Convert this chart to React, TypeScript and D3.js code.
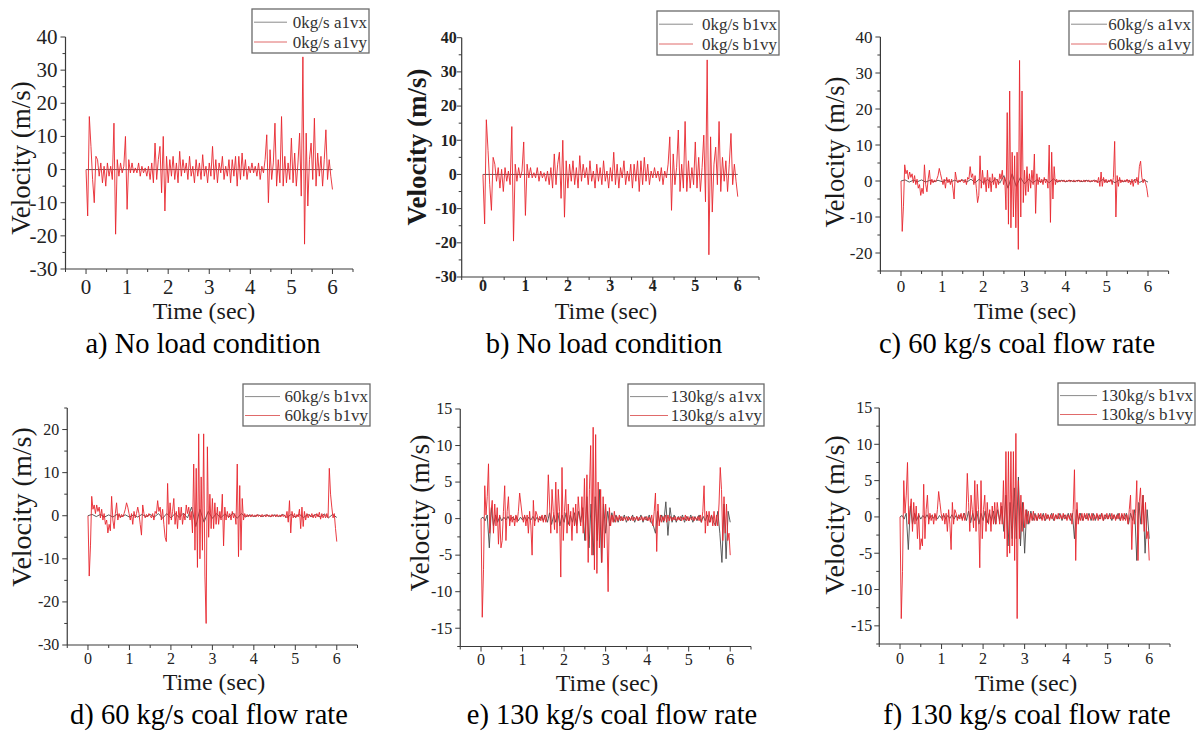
import React from "react";
import * as d3 from "d3";

// ---------- data ----------
const TIME_TICKS = [0, 1, 2, 3, 4, 5, 6];
const T_END = 6;

const CAPTIONS = [
  "a) No load condition",
  "b) No load condition",
  "c) 60 kg/s coal flow rate",
  "d) 60 kg/s coal flow rate",
  "e) 130 kg/s coal flow rate",
  "f) 130 kg/s coal flow rate",
];
const LEGENDS = [
  ["0kg/s a1vx", "0kg/s a1vy"],
  ["0kg/s b1vx", "0kg/s b1vy"],
  ["60kg/s a1vx", "60kg/s a1vy"],
  ["60kg/s b1vx", "60kg/s b1vy"],
  ["130kg/s a1vx", "130kg/s a1vy"],
  ["130kg/s b1vx", "130kg/s b1vy"],
];
const Y_TICKS_A = [-30, -20, -10, 0, 10, 20, 30, 40];
const Y_TICKS_C = [-20, -10, 0, 10, 20, 30, 40];
const Y_TICKS_D = [-30, -20, -10, 0, 10, 20];
const Y_TICKS_E = [-15, -10, -5, 0, 5, 10, 15];

// vx series (evenly spaced over 0..6 s)
const VX_0KG_A = [0, 0, 0, 0, 0, 0, 0, 0, 0, 0, 0, 0, 0];
const VX_0KG_B = [0, 0, 0, 0, 0, 0, 0, 0, 0, 0, 0, 0, 0];
const VX_60_A = [
  0, 0.3, -0.3, 0.2, -0.2, 0.3, -0.3, 0.2, -0.2, 0.2,
  -0.2, 0.3, -0.3, 0.2, -0.2, 0.3, -0.3, 0.5, -0.5, 0.5,
  -0.5, 0.4, -0.4, 0.6, -0.6, 1.5, -2, 2, -1.5, 1,
  -0.8, 0.5, -0.5, 0.3, -0.3, 0.5, -0.5, 0.6, -0.3, 0.2,
  -0.2, 0.2, -0.2, 0.2, -0.2, 0.2, -0.2, 0.2, -0.3, 0.4,
  -0.3, 0.2, -0.5, 0.3, -0.2, 0.2, -0.3, 0.4, -0.4, 0.3,
  -0.3,
];
const VX_60_B = [
  0, 0.3, -0.2, 0.3, -0.3, 0.2, -0.3, 0.3, -0.2, 0.2,
  -0.3, 0.2, -0.3, 0.3, -0.2, 0.3, -0.3, 0.5, -0.6, 0.5,
  -0.5, 0.5, -0.4, 0.6, -0.5, 2, -2.5, 1.5, -1.5, 1,
  -0.6, 0.5, -0.5, 0.4, -0.3, 0.6, -0.6, 0.5, -0.3, 0.2,
  -0.2, 0.2, -0.2, 0.2, -0.2, 0.2, -0.2, 0.3, -0.4, 0.3,
  -0.3, 0.3, -0.4, 0.3, -0.2, 0.3, -0.3, 0.4, -0.5, 0.3,
  -0.4,
];
const VX_130_A = [
  0, 0.2, -0.3, 0.5, -4, 1.5, -1, 0.5, -0.5, 0.3,
  -0.3, 0.2, -0.2, 0.3, -0.3, 0.2, -0.2, 0.3, -0.3, 0.2,
  -0.2, 0.3, -0.3, 0.2, -0.2, 0.3, -0.3, 0.2, -0.2, 0.3,
  -0.3, 0.5, -0.5, 0.8, -0.8, 0.5, -0.5, 0.8, -1, 0.5,
  -0.5, 0.8, -0.8, 0.5, -0.5, 0.8, -1, 1, -0.5, 1.5,
  -3, 3, -4, 2, -5, 3, -3, 4, -6, 2,
  -2, 1, -1, 0.8, -0.5, 0.5, -0.5, 0.3, -0.3, 0.5,
  -0.5, 0.3, -0.3, 0.5, -0.5, 0.3, -0.3, 0.5, -0.5, 0.3,
  -0.3, 0.5, -0.5, -1, -2, 1, -0.5, 0.5, -0.5, 2.3,
  -2.3, 1.5, -0.5, 0.5, -0.5, 0.3, -0.3, 0.5, -0.5, 0.3,
  -0.3, 0.5, -0.5, 0.3, -0.3, 0.5, -0.5, 0.3, -0.3, 0.5,
  -0.5, 0.5, -0.5, -1, 1, -2, -6, 2, -5.5, 1,
  -0.5,
];
const VX_130_B = [
  0, 0.2, -0.3, 0.5, -4.5, 1.5, -1, 0.5, -0.5, 0.3,
  -0.3, 0.2, -0.2, 0.3, -0.3, 0.2, -0.2, 0.3, -0.3, 0.2,
  -0.2, 0.3, -0.3, 0.2, -0.2, 0.3, -0.3, 0.2, -0.2, 0.3,
  -0.3, 0.5, -0.5, 0.8, -0.8, 0.5, -0.5, 0.8, -1, 0.5,
  -0.5, 0.8, -0.8, 0.5, -0.5, 0.8, -1, 1, -0.5, 1.5,
  -2, 3, -4, 2, -3, 4, -3, 5.5, -4, 2,
  -5, 1, -1, 0.8, -0.5, 0.5, -0.5, 0.3, -0.3, 0.5,
  -0.5, 0.3, -0.3, 0.5, -0.5, 0.3, -0.3, 0.5, -0.5, 0.3,
  -0.3, 0.5, -0.5, 0.5, -3, 1, -0.5, 0.5, -0.5, 0.3,
  -0.3, 0.5, -0.5, 0.5, -0.5, 0.3, -0.3, 0.5, -0.5, 0.3,
  -0.3, 0.5, -0.5, 0.3, -0.3, 0.5, -0.5, 0.3, -0.3, 0.5,
  -1, 0.5, -0.5, 1, -6, 2, -1, 3, -5, 1,
  -3,
];

// vy series (evenly spaced over 0..6 s)
const VY_0KG_A = [
  0, -14, 16, 7, -3, -10, 4, 3, -2, 2,
  -4, 1, -5, 2, -2, 1, -3, 14, -19.5, 3,
  -2, 2, -1, 1, 10, -12, 3, -1, 2, -1,
  0.5, -1, 2, -2, 1, -1, 0.5, -2, 1, -3,
  2, -4, 8, -3, 3, 7, -7, 10, -12.5, 4,
  -4, 3, -2, 4, -3, 2, -4, 5.5, -2, 3,
  -1, 2, -3, 4, -2, 1, -4, 3, -2, 2,
  -3, 4.5, -2, 1, -4, 2, -2, 7, -3, 3,
  -4, 2, -1, 4, -3, 1, -2, 3, -4, 3,
  -2, 4, -5, 4, -3, 5, -2, 3, -3, 1,
  -1, 2, -1, 1, -2, 2, -3, 1, -1, 3,
  10.5, -10, 6, -3, 2, 14, -5, 3, -4, 16,
  -5, 4, -4, 2, -3, 9.5, -4, 5, -5, 2,
  11, -8, 34, -22.5, 11, -11, 3, 8, -3, 15.5,
  -5, 5, -2, 4, -5, 3, 12, -3, 3, -2,
  -6,
];
const VY_0KG_B = [
  0, -14.5, 16, 7, -3, -10.5, 5, 3, -2, 2,
  -4, 1.5, -5, 2, -2, 1, -3, 14, -19.5, 3,
  -2, 2, -1, 1, 9.5, -12, 3, -1, 2, -1,
  0.5, -1, 2, -2, 1, -1, 0.5, -2, 1, -3,
  2, -4, 6, -3, 3, 6.5, -7, 10, -12.5, 4,
  -4, 3, -2, 4, -3, 2, -4, 5.5, -2, 3,
  -1, 2, -3, 4, -2, 1, -4, 3, -2, 2,
  -3, 4, -2, 1, -4, 2, -2, 6.5, -3, 3,
  -4, 2, -1, 4, -3, 1, -2, 3, -4, 3,
  -2, 4, -5, 4, -3, 5, -2, 3, -3, 1,
  -1, 2, -1, 1, -2, 2, -3, 1, -1, 3,
  11, -10.5, 6, -3, 2, 13, -5, 3, -4, 15.5,
  -5, 4, -4, 2, -3, 9.5, -4, 5, -5, 2,
  11.5, -8, 33.5, -23.5, 11, -11, 3, 8, -3, 15.5,
  -5, 5, -2, 4, -5, 3, 12, -3, 3, -2,
  -6.5,
];
const VY_60_A = [
  0, -14, -7, 4.5, 2, 3, 0.5, 2.5, 1, 2,
  -0.5, 1.5, -1, 0.5, -2, -1, -4, -2, -3.5, 4.5,
  -1, -3, 0.5, 3, -1, 0.5, -0.5, 0.3, -0.3, 0.5,
  1.5, 3.5, 2, 0.5, -1, 0.5, -2, 1, -0.5, 0.5,
  -1, 0.5, -2, -5, 2.5, 0.5, -0.5, 0.3, -0.3, 0.5,
  0, -0.5, 0.5, -1, 1, 0.5, 4, 1, 2, -1,
  1.5, -2, -6, -4, 7, -2, 3, -1, 1, -3,
  3, -2, 1, -3, 2, -1, 1, -2, 0.5, -1,
  2, 0.5, 3, -1, 1, -8, 19, -12, 25, -13,
  8, -10, 7, -13, 8, -19, 33.5, -10, 25, -6,
  3, -4, 4, -3, 2, -2, 3, -1, 7.5, -9,
  2, -1, 1, -0.5, 0.5, -1, 1, -0.5, 0.5, -2,
  10, -11.5, 8, -5, 4, -1, 0.5, -0.3, 0.3, -0.3,
  0.2, -0.2, 0.3, -0.3, 0.2, -0.2, 0.3, -0.3, 0.2, -0.2,
  0.3, -0.3, 0.2, -0.2, 0.3, -0.3, 0.2, -0.2, 0.3, -0.3,
  0.2, -0.2, 0.3, -0.3, 0.2, -0.2, 0.3, -0.3, 0.2, -0.5,
  1, -1.5, 2.5, -1.5, 1, -0.5, 0.5, -0.5, 0.3, -0.3,
  0.5, -1, 1, 11, -10, 1.5, -1.5, 1, -0.5, 0.3,
  -0.3, 0.3, -0.3, 0.5, -0.5, 0.3, -1, 0.5, -1.5, 0.5,
  -0.5, 1, -1, 4, 5.5, 1, -0.5, 0.5, -0.5, -2,
  -4.5,
];
const VY_60_B = [
  0, -14, -7, 4.5, 1.5, 2.5, 0.5, 2.5, 1, 2,
  -0.5, 1.5, -1, 0.5, -2, -1, -4, -2, -3.5, 4.5,
  -1, -3, 0.5, 3, -1, 0.5, -0.5, 0.3, -0.3, 0.5,
  1.5, 3, 2, 0.5, -1, 0.5, -2, 1, -0.5, 0.5,
  2, 0.5, -2, -4.5, 2.5, 0.5, -0.5, 0.3, -0.3, 0.5,
  0, -0.5, 0.5, -1, 1, 0.5, 3.5, 1, 2, -1,
  1.5, -2, -5, -6, 7.5, -2, 3, -1, 1, 4,
  -2, 1, -3, 2, -1, 2, -2, 0.5, -1, 2.5,
  0.5, 2, -1, 1, -4, 12, -8, 11, -12, 19,
  -10, 9, -8, 19, -14, -25, 16, -5, 5, -3,
  4, -3, 3, -2, 2, -2, 1, -1, 5, -7,
  2, -1, 1, -0.5, 0.5, -1, 1, -0.5, 0.5, -2,
  12, -9.5, 7, -8, 4, -1, 0.5, -0.3, 0.3, -0.3,
  0.2, -0.3, 0.3, -0.2, 0.2, -0.3, 0.3, -0.2, 0.2, -0.3,
  0.3, -0.2, 0.2, -0.3, 0.3, -0.2, 0.2, -0.3, 0.3, -0.2,
  0.2, -0.3, 0.3, -0.2, 0.2, -0.3, 0.3, -0.2, 0.2, -0.5,
  1, -1.5, 3.5, -4, 1, -0.5, 0.5, -0.5, 0.3, -0.3,
  1.5, -3, 2, -2.5, 1, -1, 0.5, -0.5, 0.3, -0.3,
  0.5, -0.5, 0.3, -0.5, 0.5, -0.3, 0.8, -0.8, 0.5, -0.5,
  0.3, -0.5, 0.5, -0.5, 11, 5, 2, -0.5, 0.5, -3,
  -6,
];
const VY_130_A = [
  0, -13.5, -7, 4.5, 0.5, 3, 7.5, -2, 1, 2.5,
  -2, 2, -1, 1.5, -3.5, 0.5, -4, -3, 1, 4.5,
  -3, 1, 3, -1, 0.5, -0.5, 0.3, -1, 0.5, -0.5,
  1, 3.5, 2, 0.5, -0.5, 0.5, -1, 0.5, -2, 1,
  -1, -5, 2.5, -1, 1, 0.5, -0.5, 0.3, -0.3, 0.5,
  -0.5, 0.5, -0.5, 0.3, 6, 2, -2, 4, 1, -1.5,
  5, -2, 4, 1, -8, 7, -3, 1, 4, -2,
  2, -1, 1, -3, 1.5, -1, 2, -2, 3, 0.5,
  -1, 3, -2, 5.5, -3, 6, -6, 4, 10, -5,
  12.5, -7, 11.5, -7.5, 5, -4, 4, -6, 3, -4,
  2, -1, -10, 1.5, -1, 0.5, -0.5, 1, -0.5, 0.3,
  -0.3, 0.5, -0.3, 0.3, -0.3, 0.2, -0.2, 0.3, -0.3, 0.2,
  -0.2, 0.3, -0.3, 0.2, -0.2, 0.3, -0.3, 0.2, -0.2, 0.3,
  -0.3, 0.2, -0.2, 0.3, -0.3, 0.2, -0.5, 0.5, -1, 1,
  3.5, -4.5, 2, -1, 0.5, -0.5, 0.3, -0.3, 0.5, -0.5,
  0.5, -0.3, 0.3, -0.3, 0.2, -0.2, 0.3, -0.3, 0.2, -0.2,
  0.3, -0.3, 0.2, -0.2, 0.5, -0.3, 0.3, -0.3, 0.2, -0.2,
  0.3, -0.3, 0.2, -0.2, 0.3, -0.3, 0.5, -0.5, 1, 4.5,
  -2, 1, -1, 1, -0.5, 0.5, -1, 1, -1, 0.5,
  -1, 2, 7, 4, -3, 3, -2, 2, -3, -2,
  -5,
];
const VY_130_B = [
  0, -14, -7.5, 5, 0.5, 3, 7.5, -1, 1, 2.5,
  -2, 2, -1, 1.5, -3, 0.5, -4.5, -3, -4, 4.5,
  -3, 1, 3, -1, 0.5, -0.5, 0.3, -1, 0.5, -0.5,
  1, 3.5, 2, 0.5, -0.5, 0.5, -1, 0.5, -2, 1,
  -1, -4.5, 2, -1, 1, 0.5, -0.5, 0.3, -0.3, 0.5,
  -0.5, 0.5, -0.5, 0.3, 6, 2, -2, 3, 1, -1.5,
  5, -2, 4.5, 1, -7, 5, -3, 1, 3, -2,
  2, -1, 1, -2, 1.5, -1, 2, -1, 2, 0.5,
  -1, 2, -1, 5, -3, 9, -5.5, 9, -5, 9,
  -4, 9, -6, 11.5, -14, 5, -3, 3, -2, 2,
  -1.5, 1, -1, 0.8, -0.8, 0.5, -0.5, 0.8, -0.5, 0.3,
  -0.5, 0.5, -0.3, 0.5, -0.5, 0.3, -0.5, 0.5, -0.3, 0.3,
  -0.5, 0.3, -0.3, 0.5, -0.5, 0.3, -0.3, 0.5, -0.3, 0.3,
  -0.3, 0.5, -0.3, 0.3, -0.5, 0.3, -0.3, 0.5, -1, 1,
  6.5, -6, 2, -1, 0.5, -0.5, 0.5, -0.5, 0.5, -0.3,
  0.5, -0.5, 0.3, -0.3, 0.5, -0.5, 0.3, -0.3, 0.5, -0.5,
  0.3, -0.3, 0.5, -0.5, 0.3, -0.3, 0.5, -0.3, 0.3, -0.3,
  0.5, -0.3, 0.3, -0.5, 0.3, -0.3, 0.5, -0.5, 0.5, -0.5,
  0.5, -0.5, 0.3, -1, 1, 3, -4.5, 1, -1, 0.5,
  5, -6, 2, 4, -1, 3, -2, 2, -3, -2,
  -6,
];

// ---------- layout / style ----------
const SERIF = '"Liberation Serif", "Times New Roman", Times, serif';
const RED = "#e8262e";
const GRAY = "#4a4a4a";
const AXIS = "#3a3a3a";

type Cfg = {
  left: number; right: number; top: number; bottom: number;
  yDomain: [number, number]; yTicks: number[]; yMinor: number;
  tickSize: number; tickBold: boolean; yGap: number; xOff: number;
  yLab: [number, number, number, boolean];
  xLab: [number, number];
  cap: [number, number];
  leg: [number, number, number, number, number];
};

const PANELS: { cfg: Cfg; vx: number[]; vy: number[] }[] = [
  {
    cfg: { left: 65.5, right: 353, top: 37, bottom: 269, yDomain: [-30, 40], yTicks: Y_TICKS_A, yMinor: 5,
      tickSize: 21, tickBold: false, yGap: 8, xOff: 25, yLab: [21, 158, 27, false], xLab: [204, 319], cap: [203, 353],
      leg: [252, 9, 117, 44, 287] },
    vx: VX_0KG_A, vy: VY_0KG_A,
  },
  {
    cfg: { left: 461.7, right: 759, top: 37.7, bottom: 277, yDomain: [-30, 40], yTicks: Y_TICKS_A, yMinor: 5,
      tickSize: 16, tickBold: true, yGap: 5, xOff: 14, yLab: [417, 147, 27, true], xLab: [606, 319], cap: [604, 353],
      leg: [657, 11, 122, 44, 693] },
    vx: VX_0KG_B, vy: VY_0KG_B,
  },
  {
    cfg: { left: 880.4, right: 1168.6, top: 37, bottom: 271, yDomain: [-25, 40], yTicks: Y_TICKS_C, yMinor: 5,
      tickSize: 17, tickBold: false, yGap: 8, xOff: 21, yLab: [835, 152, 26.5, false], xLab: [1025, 319], cap: [1017, 353],
      leg: [1069, 11, 124, 44, 1107] },
    vx: VX_60_A, vy: VY_60_A,
  },
  {
    cfg: { left: 67.25, right: 357.5, top: 408, bottom: 645, yDomain: [-30, 25], yTicks: Y_TICKS_D, yMinor: 5,
      tickSize: 16, tickBold: false, yGap: 8, xOff: 19, yLab: [22, 507, 28, false], xLab: [214, 690], cap: [209, 724],
      leg: [243, 384, 127, 42, 280] },
    vx: VX_60_B, vy: VY_60_B,
  },
  {
    cfg: { left: 460.25, right: 751, top: 409, bottom: 646.5, yDomain: [-17.5, 15], yTicks: Y_TICKS_E, yMinor: 2.5,
      tickSize: 16, tickBold: false, yGap: 8, xOff: 18.5, yLab: [420, 513, 27.5, false], xLab: [607, 691], cap: [612, 724],
      leg: [628, 384, 136, 42, 668] },
    vx: VX_130_A, vy: VY_130_A,
  },
  {
    cfg: { left: 879.25, right: 1170, top: 408, bottom: 644, yDomain: [-17.5, 15], yTicks: Y_TICKS_E, yMinor: 2.5,
      tickSize: 16, tickBold: false, yGap: 7, xOff: 19.5, yLab: [835, 515, 28, false], xLab: [1026, 691], cap: [1027, 724],
      leg: [1058, 383, 137, 42, 1097] },
    vx: VX_130_B, vy: VY_130_B,
  },
];

function Panel({ cfg, vx, vy, legend, caption }: { cfg: Cfg; vx: number[]; vy: number[]; legend: string[]; caption: string }) {
  const x = d3.scaleLinear().domain([-0.5, 6.5]).range([cfg.left, cfg.right]);
  const y = d3.scaleLinear().domain(cfg.yDomain).range([cfg.bottom, cfg.top]);
  const path = (vals: number[]) => {
    const dt = T_END / (vals.length - 1);
    return d3.line<number>().x((_, i) => x(i * dt)).y((v) => y(v))(vals) || "";
  };
  const yMinorTicks = d3.range(cfg.yDomain[0], cfg.yDomain[1] + 0.001, cfg.yMinor).filter((v) => !cfg.yTicks.includes(v));
  const xMinorTicks = d3.range(-0.5, 6.51, 1);
  const [lx, ly, lw, lh, lineEnd] = cfg.leg;
  const rowY = [ly + lh * 0.3, ly + lh * 0.75];
  return (
    <g>
      <path d={path(vx)} fill="none" stroke={GRAY} strokeWidth={0.9} />
      <path d={path(vy)} fill="none" stroke={RED} strokeWidth={0.9} strokeLinejoin="round" />
      {/* axes */}
      <line x1={cfg.left} x2={cfg.left} y1={y(cfg.yDomain[1])} y2={cfg.bottom} stroke={AXIS} strokeWidth={1.2} />
      <line x1={cfg.left} x2={cfg.right} y1={cfg.bottom} y2={cfg.bottom} stroke={AXIS} strokeWidth={1.2} />
      {cfg.yTicks.map((v) => (
        <g key={"yt" + v}>
          <line x1={cfg.left - 5} x2={cfg.left} y1={y(v)} y2={y(v)} stroke={AXIS} strokeWidth={1} />
          <text x={cfg.left - cfg.yGap} y={y(v)} dy="0.33em" textAnchor="end" fontFamily={SERIF}
            fontSize={cfg.tickSize} fontWeight={cfg.tickBold ? "bold" : "normal"} fill="#222">{v}</text>
        </g>
      ))}
      {yMinorTicks.map((v) => (
        <line key={"ym" + v} x1={cfg.left - 3} x2={cfg.left} y1={y(v)} y2={y(v)} stroke={AXIS} strokeWidth={1} />
      ))}
      {TIME_TICKS.map((t) => (
        <g key={"xt" + t}>
          <line x1={x(t)} x2={x(t)} y1={cfg.bottom} y2={cfg.bottom + 5} stroke={AXIS} strokeWidth={1} />
          <text x={x(t)} y={cfg.bottom + cfg.xOff} textAnchor="middle" fontFamily={SERIF}
            fontSize={cfg.tickSize} fontWeight={cfg.tickBold ? "bold" : "normal"} fill="#222">{t}</text>
        </g>
      ))}
      {xMinorTicks.map((t) => (
        <line key={"xm" + t} x1={x(t)} x2={x(t)} y1={cfg.bottom} y2={cfg.bottom + 3} stroke={AXIS} strokeWidth={1} />
      ))}
      {/* axis titles */}
      <text transform={`translate(${cfg.yLab[0]},${cfg.yLab[1]}) rotate(-90)`} dy="0.33em" textAnchor="middle"
        fontFamily={SERIF} fontSize={cfg.yLab[2]} fontWeight={cfg.yLab[3] ? "bold" : "normal"} fill="#1a1a1a">Velocity (m/s)</text>
      <text x={cfg.xLab[0]} y={cfg.xLab[1]} textAnchor="middle" fontFamily={SERIF} fontSize={24} fill="#1a1a1a">Time (sec)</text>
      <text x={cfg.cap[0]} y={cfg.cap[1]} textAnchor="middle" fontFamily={SERIF} fontSize={28.5} fill="#000">{caption}</text>
      {/* legend */}
      <rect x={lx} y={ly} width={lw} height={lh} fill="#fff" stroke="#6a6a6a" strokeWidth={1.3} />
      <line x1={lx + 2} x2={lineEnd} y1={rowY[0]} y2={rowY[0]} stroke="#8a8a8a" strokeWidth={1} />
      <line x1={lx + 2} x2={lineEnd} y1={rowY[1]} y2={rowY[1]} stroke="#e06a6a" strokeWidth={1} />
      {legend.map((s, i) => (
        <text key={s} x={lx + lw - 2} y={rowY[i]} dy="0.33em" textAnchor="end" fontFamily={SERIF} fontSize={17} fill="#333">{s}</text>
      ))}
    </g>
  );
}

export default function App() {
  return (
    <svg width={1200} height={731} style={{ position: "absolute", left: 0, top: 0, background: "#fff" }}>
      <rect width={1200} height={731} fill="#fff" />
      {PANELS.map((p, i) => (
        <Panel key={i} cfg={p.cfg} vx={p.vx} vy={p.vy} legend={LEGENDS[i]} caption={CAPTIONS[i]} />
      ))}
    </svg>
  );
}
